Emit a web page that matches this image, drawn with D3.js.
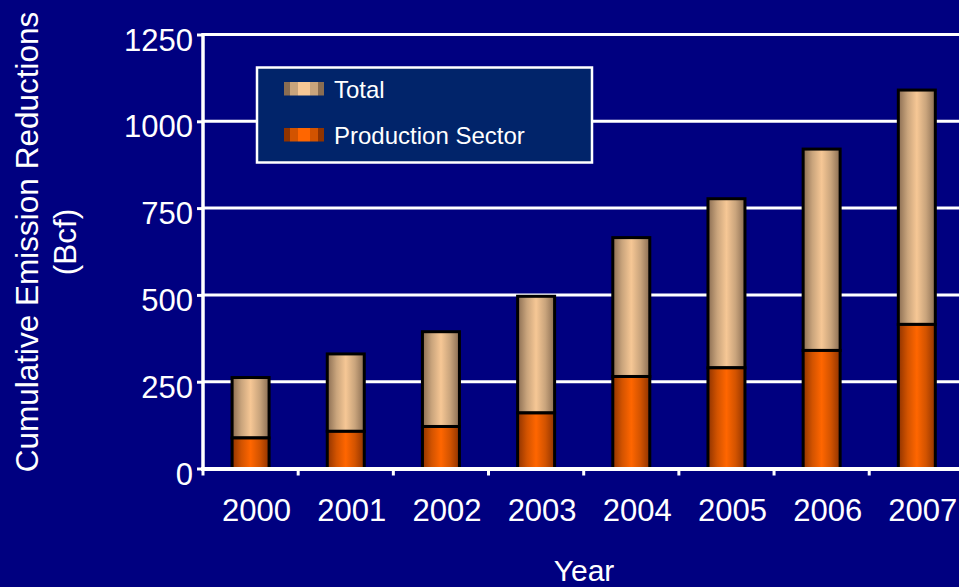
<!DOCTYPE html>
<html>
<head>
<meta charset="utf-8">
<script src="https://cdn.jsdelivr.net/npm/d3@7/dist/d3.min.js"></script>
<style>
  html, body { margin: 0; padding: 0; background: #000080; }
  svg { display: block; }
  text { font-family: "Liberation Sans", Arial, sans-serif; fill: #ffffff; }
</style>
</head>
<body>
<svg id="chart" width="959" height="587"></svg>
<script>
// Cumulative emission reductions by year (Bcf)
const years = ["2000", "2001", "2002", "2003", "2004", "2005", "2006", "2007"];
const totalValues = [262, 330, 394, 496, 665, 777, 920, 1090];
const productionValues = [88, 107, 121, 160, 265, 290, 340, 415];
const yTicks = [0, 250, 500, 750, 1000, 1250];
const seriesNames = ["Total", "Production Sector"];

const W = 959, H = 587;
const svg = d3.select("#chart");

const x = d3.scaleBand().domain(years).range([203, 964.4]).padding(0);
const y = d3.scaleLinear().domain([0, 1250]).range([468.5, 34.5]);
const barW = 37;

// gradients: dark edges, light centre
const defs = svg.append("defs");
function gradient(id, edge, mid, centre) {
  const g = defs.append("linearGradient").attr("id", id)
    .attr("x1", "0%").attr("x2", "100%").attr("y1", "0%").attr("y2", "0%");
  [[0, edge], [0.25, mid], [0.5, centre], [0.75, mid], [1, edge]].forEach(([o, c]) =>
    g.append("stop").attr("offset", o).attr("stop-color", c));
}
gradient("gTotal", "#8a6d52", "#c9a47c", "#f6c795");
gradient("gProd", "#8f3300", "#d25300", "#ff6600");

// gridlines
svg.append("g").selectAll("line").data(yTicks.filter(d => d > 0)).join("line")
  .attr("x1", 203).attr("x2", W)
  .attr("y1", d => y(d)).attr("y2", d => y(d))
  .attr("stroke", "#ffffff").attr("stroke-width", 3);

// y axis
const yAxis = svg.append("g").attr("transform", "translate(203,0)")
  .call(d3.axisLeft(y).tickValues(yTicks).tickFormat(d3.format("d")).tickSize(6).tickPadding(4));
yAxis.select(".domain").attr("stroke", "#ffffff").attr("stroke-width", 3.5)
  .attr("d", `M0,${y(1250) - 1.5}V${y(0) + 2}`);
yAxis.selectAll(".tick line").attr("stroke", "#ffffff").attr("stroke-width", 3);
yAxis.selectAll(".tick text").attr("fill", "#ffffff")
  .style("font-size", "31px").attr("x", -10).attr("dy", "0.86em").attr("y", -11);

// x axis
const xAxis = svg.append("g").attr("transform", `translate(0,${y(0)})`)
  .call(d3.axisBottom(x).tickSize(0).tickPadding(0));
xAxis.select(".domain").remove();
xAxis.selectAll(".tick text").attr("fill", "#ffffff")
  .style("font-size", "31px").attr("y", 52).attr("dy", 0).attr("x", 6);
svg.append("g").selectAll("line").data(years).join("line")
  .attr("x1", d => x(d)).attr("x2", d => x(d))
  .attr("y1", y(0)).attr("y2", y(0) + 7)
  .attr("stroke", "#ffffff").attr("stroke-width", 3);

// stacked bars: production at the base, remainder up to total above it
const bars = svg.append("g");
years.forEach((yr, i) => {
  const cx = x(yr) + x.bandwidth() / 2;
  bars.append("rect")
    .attr("x", cx - barW / 2).attr("width", barW)
    .attr("y", y(totalValues[i])).attr("height", y(productionValues[i]) - y(totalValues[i]))
    .attr("fill", "url(#gTotal)").attr("stroke", "#000000").attr("stroke-width", 3);
  bars.append("rect")
    .attr("x", cx - barW / 2).attr("width", barW)
    .attr("y", y(productionValues[i])).attr("height", y(0) - y(productionValues[i]))
    .attr("fill", "url(#gProd)").attr("stroke", "#000000").attr("stroke-width", 3);
});
// baseline drawn over the bar outlines
svg.append("line").attr("x1", 201).attr("x2", W)
  .attr("y1", y(0) + 0.5).attr("y2", y(0) + 0.5)
  .attr("stroke", "#ffffff").attr("stroke-width", 4);

// legend
const legend = svg.append("g");
legend.append("rect").attr("x", 257).attr("y", 67.5).attr("width", 335).attr("height", 95)
  .attr("fill", "#01246a").attr("stroke", "#ffffff").attr("stroke-width", 2.5);
const swatchStops = [
  ["#8a6d52", "#c9a47c", "#f6c795", "#c9a47c", "#8a6d52"],
  ["#8f3300", "#d25300", "#ff6600", "#d25300", "#8f3300"]
];
const stepW = [6, 8, 12, 8, 6];
seriesNames.forEach((name, i) => {
  const sy = 82 + i * 46;
  let sx = 284;
  swatchStops[i].forEach((c, k) => {
    legend.append("rect").attr("x", sx).attr("y", sy).attr("width", stepW[k]).attr("height", 13.5)
      .attr("fill", c);
    sx += stepW[k];
  });
  legend.append("text").attr("x", 334).attr("y", sy + 15.5)
    .style("font-size", "24px").text(name);
});

// axis titles
svg.append("text").attr("transform", "translate(38,242) rotate(-90)")
  .attr("text-anchor", "middle").style("font-size", "31.5px")
  .text("Cumulative Emission Reductions");
svg.append("text").attr("transform", "translate(76,242) rotate(-90)")
  .attr("text-anchor", "middle").style("font-size", "31.5px")
  .text("(Bcf)");
svg.append("text").attr("x", 584).attr("y", 581)
  .attr("text-anchor", "middle").style("font-size", "30px")
  .text("Year");
</script>
</body>
</html>
